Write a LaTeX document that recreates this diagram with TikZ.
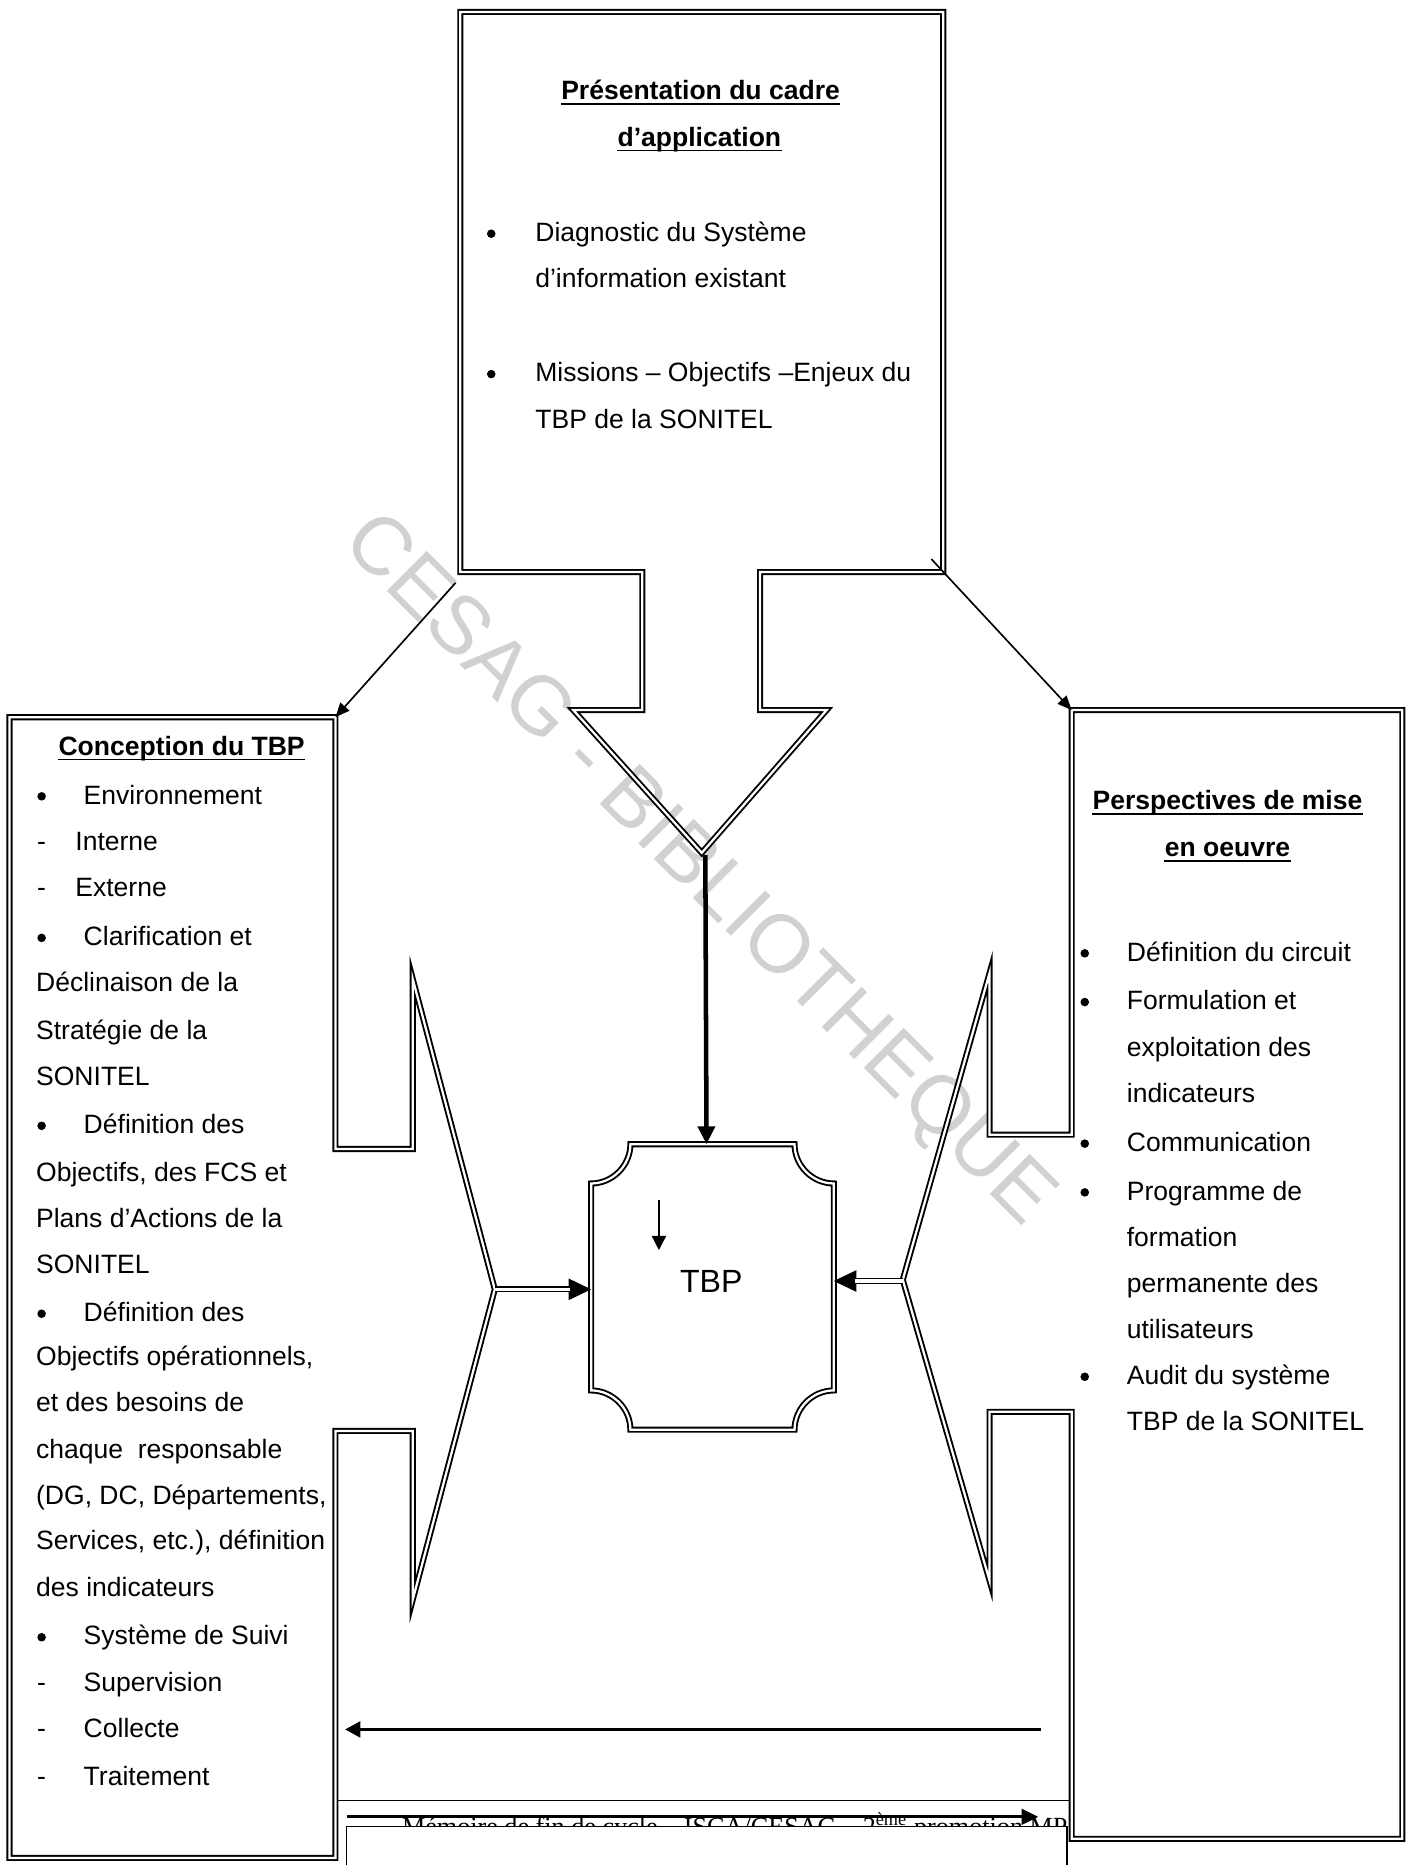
\documentclass[tikz,border=0pt]{standalone}
\usepackage{fontspec}
\setmainfont{Liberation Sans}
\newfontfamily\serifft{Liberation Serif}
\usetikzlibrary{arrows.meta}
\newcommand\fs{\fontsize{11.15}{13.4}\selectfont}
\newcommand\mytxt[4]{\node[txt] (#1) at (#2,#3) {#4};}
\newcommand\mybul[3]{\node[bulc] (#1) at (#2,#3-6.5) {};}
\newcommand\mydash[3]{\node[bul] (#1) at (#2,#3) {-};}
\newcommand\myul[1]{\draw[ulline] ([yshift=-1.8pt]#1.base west) -- ([yshift=-1.8pt]#1.base east);}
\begin{document}
\begin{tikzpicture}[x=0.5pt,y=-0.5pt,
  outl/.style={draw, double=white, line width=0.8pt, double distance=0.95pt, line join=miter},
  txt/.style={inner sep=0pt, anchor=base west, font=\fs},
  ttl/.style={inner sep=0pt, anchor=base, font=\fs\bfseries},
  bul/.style={inner sep=0pt, anchor=base, font=\fs},
  bulc/.style={circle, fill=black, inner sep=0pt, minimum size=3.6pt},
  ulline/.style={line width=0.75pt},
  thinarr/.style={line width=0.7pt, -{Triangle[length=6pt,width=5pt]}},
]
\useasboundingbox (0,0) rectangle (1186,1568);
\fill[white] (0,0) rectangle (1186,1568);

% watermark
\node[rotate=-45, text=black!18, font=\fontsize{34.5}{40}\selectfont, inner sep=0pt] (wm) at (586,733) {CESAG - BIBLIOTHEQUE};

% ---------- top box (arrow shape) ----------
\draw[outl] (387,10) -- (793,10) -- (793,481) -- (639,481) -- (639,597) -- (695,597)
   -- (590,717) -- (482,597) -- (540,597) -- (540,481) -- (387,481) -- cycle;

\node[ttl] (t1) at (589,84) {Présentation du cadre};
\node[ttl] (t2) at (588,123) {d’application};
\myul{t1}\myul{t2}
\mybul{tb1}{413}{203}\mytxt{t3}{449.7}{203}{Diagnostic du Système}
\mytxt{t4}{449.7}{242}{d’information existant}
\mybul{tb2}{413}{321}\mytxt{t5}{449.7}{321}{Missions – Objectifs –Enjeux du}
\mytxt{t6}{449.7}{360}{TBP de la SONITEL}

% ---------- left box ----------
\draw[outl] (8,603) -- (282,603) -- (282,966) -- (347,966) -- (347,823) -- (416,1084)
   -- (347,1345) -- (347,1203) -- (282,1203) -- (282,1562) -- (8,1562) -- cycle;

\node[ttl] (c0) at (152.7,635) {Conception du TBP};
\myul{c0}
\mybul{lb1}{35}{676}\mytxt{l1}{70}{676}{Environnement}
\mydash{ld1}{35}{715}\mytxt{l2}{63}{715}{Interne}
\mydash{ld2}{35}{754}\mytxt{l3}{63}{754}{Externe}
\mybul{lb2}{35}{795}\mytxt{l4}{70}{795}{Clarification et}
\mytxt{l5}{30}{834}{Déclinaison de la}
\mytxt{l6}{30}{874}{Stratégie de la}
\mytxt{l7}{30}{913}{SONITEL}
\mybul{lb3}{35}{953}\mytxt{l8}{70}{953}{Définition des}
\mytxt{l9}{30}{993}{Objectifs, des FCS et}
\mytxt{l10}{30}{1032}{Plans d’Actions de la}
\mytxt{l11}{30}{1071}{SONITEL}
\mybul{lb4}{35}{1111}\mytxt{l12}{70}{1111}{Définition des}
\mytxt{l13}{30}{1148}{Objectifs opérationnels,}
\mytxt{l14}{30}{1187}{et des besoins de}
\mytxt{l15}{30}{1226}{chaque\hspace{0.556em}responsable}
\mytxt{l16}{30}{1265}{(DG, DC, Départements,}
\mytxt{l17}{30}{1303}{Services, etc.), définition}
\mytxt{l18}{30}{1342}{des indicateurs}
\mybul{lb5}{35}{1383}\mytxt{l19}{70}{1383}{Système de Suivi}
\mydash{ld3}{35}{1422}\mytxt{l20}{70}{1422}{Supervision}
\mydash{ld4}{35}{1461}\mytxt{l21}{70}{1461}{Collecte}
\mydash{ld5}{35}{1501}\mytxt{l22}{70}{1501}{Traitement}

% ---------- right box ----------
\draw[outl] (901,597) -- (1179,597) -- (1179,1546) -- (901,1546) -- (901,1187) -- (832,1187)
   -- (832,1329) -- (759,1076) -- (832,818) -- (832,954) -- (901,954) -- cycle;

\node[ttl] (p0) at (1032,681) {Perspectives de mise};
\node[ttl] (p1) at (1032,720) {en oeuvre};
\myul{p0}\myul{p1}
\mybul{rb1}{912}{808}\mytxt{r1}{947}{808}{Définition du circuit}
\mybul{rb2}{912}{849}\mytxt{r2}{947}{849}{Formulation et}
\mytxt{r3}{947}{888}{exploitation des}
\mytxt{r4}{947}{927}{indicateurs}
\mybul{rb3}{912}{968}\mytxt{r5}{947}{968}{Communication}
\mybul{rb4}{912}{1009}\mytxt{r6}{947}{1009}{Programme de}
\mytxt{r7}{947}{1048}{formation}
\mytxt{r8}{947}{1087}{permanente des}
\mytxt{r9}{947}{1125}{utilisateurs}
\mybul{rb5}{912}{1164}\mytxt{r10}{947}{1164}{Audit du système}
\mytxt{r11}{947}{1203}{TBP de la SONITEL}

% ---------- TBP box ----------
\draw[outl] (530,962) -- (668,962) .. controls (668,980) and (683,995) .. (701,995)
  -- (701,1169) .. controls (683,1169) and (668,1184) .. (668,1202)
  -- (530,1202) .. controls (530,1184) and (515,1169) .. (497,1169)
  -- (497,995) .. controls (515,995) and (530,980) .. (530,962) -- cycle;
\node[inner sep=0pt, font=\fontsize{13.5}{16}\selectfont] (tbp) at (598,1077) {TBP};

% ---------- coordinates ----------
\coordinate (ytip) at (593,719);
\coordinate (tbpT) at (594,962);
\coordinate (tbpL) at (497,1084);
\coordinate (tbpR) at (701,1077);
\coordinate (lmid) at (416,1084);
\coordinate (rmid) at (759,1077);
\coordinate (dl1) at (383,490);
\coordinate (lbox) at (282,603);
\coordinate (dr1) at (783,470);
\coordinate (rbox) at (901,597);
\coordinate (sa1) at (554,1009);
\coordinate (sa2) at (554,1051);
\coordinate (ba1) at (875,1454);
\coordinate (ba2) at (290,1454);

% ---------- connectors ----------
\draw[line width=1.9pt, -{Triangle[length=7.5pt,width=7pt]}] (ytip) -- (tbpT);
\draw[thinarr] (dl1) -- (lbox);
\draw[thinarr] (dr1) -- (rbox);
\draw[line width=0.6pt, -{Triangle[length=6pt,width=6pt]}] (sa1) -- (sa2);
% double-line arrows into TBP
\draw[line width=0.5pt, -{Triangle[length=9.5pt,width=9pt]}] (lmid) -- (tbpL);
\draw[double=white, line width=0.6pt, double distance=1.3pt, shorten >=9pt] (lmid) -- (tbpL);
\draw[line width=0.5pt, -{Triangle[length=9.5pt,width=9pt]}] (rmid) -- (tbpR);
\draw[double=white, line width=0.6pt, double distance=1.3pt, shorten >=9pt] (rmid) -- (tbpR);
% bottom arrow
\draw[line width=1.6pt, -{Triangle[length=6.5pt,width=6.5pt]}] (ba1) -- (ba2);

% ---------- footer remnants ----------
\coordinate (hl1) at (284,1513.6);
\coordinate (hl2) at (900,1513.6);
\draw[line width=0.6pt] (hl1) -- (hl2);
\begin{scope}
\clip (284,1515) rectangle (897,1535.5);
\node[inner sep=0pt, anchor=base west, font=\serifft\fontsize{11}{13}\selectfont] (ft) at (337.6,1543)
  {Mémoire de fin de cycle – ISCA/CESAG – 2\textsuperscript{ème} promotion MPT};
\end{scope}
\coordinate (fa1) at (292,1527.5);
\coordinate (fa2) at (873,1527.5);
\draw[line width=1.2pt, -{Triangle[length=7pt,width=6.5pt]}] (fa1) -- (fa2);
\draw[line width=0.5pt] (291.4,1568) -- (291.4,1535.5) -- (897,1535.5) -- (897,1568);
\end{tikzpicture}
\end{document}
